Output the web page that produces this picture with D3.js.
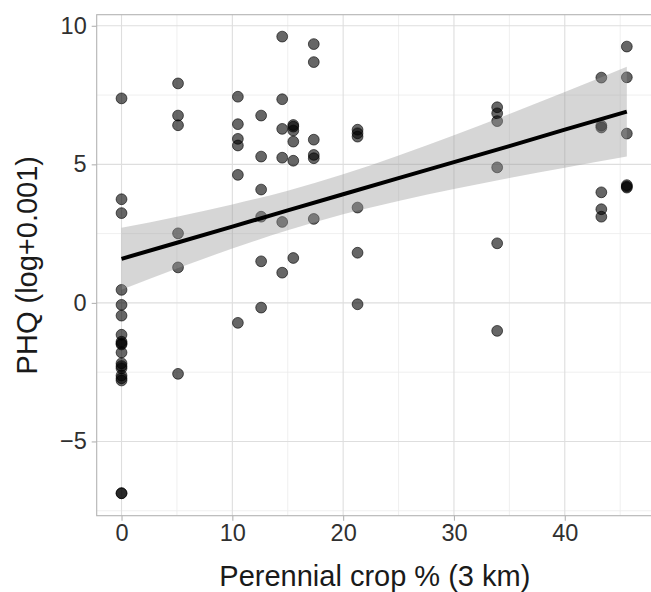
<!DOCTYPE html>
<html>
<head>
<meta charset="utf-8">
<script src="https://cdn.jsdelivr.net/npm/d3@7"></script>
<style>
  html, body { margin: 0; padding: 0; background: #fff; }
  svg { display: block; font-family: "Liberation Sans", Arial, Helvetica, sans-serif; }
</style>
</head>
<body>
<svg id="chart" width="651" height="592"></svg>
<script>
// ---- data ----
const xGroups = [0, 5.1, 10.5, 12.6, 14.5, 15.5, 17.35, 21.3, 33.9, 43.3, 45.6];
const phqByGroup = [
  [7.38, 3.74, 3.24, 0.47, -0.07, -0.46, -1.15, -1.40, -1.46, -1.50, -1.79, -2.18, -2.28, -2.36, -2.62, -2.72, -2.80, -6.87, -6.87],
  [7.92, 6.76, 6.41, 2.51, 1.28, -2.56],
  [7.44, 6.45, 5.92, 5.68, 4.62, -0.72],
  [6.76, 5.28, 4.09, 3.11, 1.50, -0.17],
  [9.61, 7.35, 6.28, 5.24, 2.92, 1.09],
  [6.42, 6.36, 6.22, 5.82, 5.13, 1.62],
  [9.34, 8.69, 5.89, 5.34, 5.22, 3.03],
  [6.25, 6.12, 6.00, 3.44, 1.81, -0.05],
  [7.06, 6.84, 6.56, 4.89, 2.15, -1.01],
  [8.13, 6.40, 6.33, 3.99, 3.38, 3.11],
  [9.25, 8.14, 6.11, 4.25, 4.20, 4.16]
];
// fitted line & confidence band
const fitX     = [0, 5, 10, 15, 20, 25, 30, 35, 40, 45.6];
const fitY     = [1.59, 2.17, 2.75, 3.34, 3.92, 4.50, 5.08, 5.66, 6.25, 6.90];
const bandLow  = [0.47, 1.24, 1.96, 2.62, 3.20, 3.68, 4.11, 4.51, 4.88, 5.28];
const bandHigh = [2.71, 3.11, 3.55, 4.05, 4.64, 5.32, 6.05, 6.82, 7.61, 8.52];
const xTicks = [0, 10, 20, 30, 40];
const xMinor = [5, 15, 25, 35, 45];
const yTicks = [-5, 0, 5, 10];
const yMinor = [-7.5, -2.5, 2.5, 7.5];
const xTitle = "Perennial crop % (3 km)";
const yTitle = "PHQ (log+0.001)";

// ---- layout ----
const svg = d3.select("#chart");
const panel = { left: 96.7, right: 653.2, top: 14.7, bottom: 515.7 };
const x = d3.scaleLinear().domain([-2.24, 47.98]).range([panel.left, panel.right]);
const y = d3.scaleLinear().domain([-7.68, 10.40]).range([panel.bottom, panel.top]);

const points = [];
xGroups.forEach((gx, i) => phqByGroup[i].forEach(v => points.push({ x: gx, y: v })));

// gridlines
const grid = svg.append("g");
grid.selectAll("line.xmin").data(xMinor).join("line")
  .attr("x1", d => x(d)).attr("x2", d => x(d)).attr("y1", panel.top).attr("y2", panel.bottom)
  .attr("stroke", "#ebebeb").attr("stroke-width", 0.8);
grid.selectAll("line.ymin").data(yMinor).join("line")
  .attr("y1", d => y(d)).attr("y2", d => y(d)).attr("x1", panel.left).attr("x2", panel.right)
  .attr("stroke", "#ebebeb").attr("stroke-width", 0.8);
grid.selectAll("line.xmaj").data(xTicks).join("line")
  .attr("x1", d => x(d)).attr("x2", d => x(d)).attr("y1", panel.top).attr("y2", panel.bottom)
  .attr("stroke", "#dedede").attr("stroke-width", 1.1);
grid.selectAll("line.ymaj").data(yTicks).join("line")
  .attr("y1", d => y(d)).attr("y2", d => y(d)).attr("x1", panel.left).attr("x2", panel.right)
  .attr("stroke", "#dedede").attr("stroke-width", 1.1);

// points
svg.append("g").selectAll("circle").data(points).join("circle")
  .attr("cx", d => x(d.x)).attr("cy", d => y(d.y)).attr("r", 5.4)
  .attr("fill", "rgba(0,0,0,0.6)").attr("stroke", "rgba(0,0,0,0.6)").attr("stroke-width", 1);

// confidence band
const fit = fitX.map((fx, i) => ({ x: fx, y: fitY[i], lo: bandLow[i], hi: bandHigh[i] }));
svg.append("path").datum(fit)
  .attr("d", d3.area().x(d => x(d.x)).y0(d => y(d.lo)).y1(d => y(d.hi)).curve(d3.curveMonotoneX))
  .attr("fill", "#999999").attr("fill-opacity", 0.4);
svg.append("path").datum(fit)
  .attr("d", d3.line().x(d => x(d.x)).y(d => y(d.y)))
  .attr("fill", "none").attr("stroke", "#000").attr("stroke-width", 4);

// panel border
svg.append("rect")
  .attr("x", panel.left).attr("y", panel.top)
  .attr("width", panel.right - panel.left).attr("height", panel.bottom - panel.top)
  .attr("fill", "none").attr("stroke", "#b3b3b3").attr("stroke-width", 1.1);

// axes
const xAxis = svg.append("g").attr("transform", `translate(0,${panel.bottom})`)
  .call(d3.axisBottom(x).tickValues(xTicks).tickSize(5).tickPadding(4).tickFormat(d3.format("d")));
const yAxis = svg.append("g").attr("transform", `translate(${panel.left},0)`)
  .call(d3.axisLeft(y).tickValues(yTicks).tickSize(5).tickPadding(5).tickFormat(d3.format("d")));
[xAxis, yAxis].forEach(a => {
  a.select(".domain").remove();
  a.selectAll(".tick line").attr("stroke", "#b3b3b3").attr("stroke-width", 1.1);
  a.selectAll(".tick text").attr("fill", "#303030").style("font-size", "23.5px")
    .style("font-family", "'Liberation Sans', Arial, Helvetica, sans-serif");
});

// titles
svg.append("text").attr("x", (panel.left + 651) / 2 + 1).attr("y", 586)
  .attr("text-anchor", "middle").attr("fill", "#1a1a1a").style("font-size", "29px").text(xTitle);
svg.append("text").attr("transform", `translate(37,${(panel.top + panel.bottom) / 2}) rotate(-90)`)
  .attr("text-anchor", "middle").attr("fill", "#1a1a1a").style("font-size", "29px").text(yTitle);
</script>
</body>
</html>
